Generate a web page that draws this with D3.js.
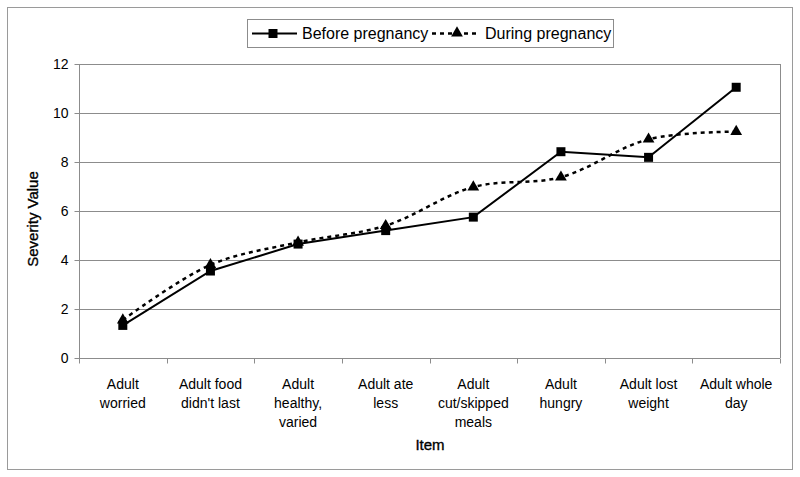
<!DOCTYPE html>
<html><head><meta charset="utf-8">
<script src="https://cdn.jsdelivr.net/npm/d3@7"></script>
<style>body{margin:0;background:#fff;} text{font-family:"Liberation Sans",Arial,sans-serif;fill:#000;}</style>
</head><body>
<svg id="c" width="800" height="477"></svg>
<script>
const categories = [
  ["Adult","worried"],
  ["Adult food","didn't last"],
  ["Adult","healthy,","varied"],
  ["Adult ate","less"],
  ["Adult","cut/skipped","meals"],
  ["Adult","hungry"],
  ["Adult lost","weight"],
  ["Adult whole","day"]
];
const beforeValues = [1.33, 3.55, 4.65, 5.2, 5.75, 8.42, 8.19, 11.05];
const duringValues = [1.55, 3.8, 4.72, 5.4, 6.98, 7.38, 8.93, 9.24];
const yTicks = [0, 2, 4, 6, 8, 10, 12];
const seriesNames = ["Before pregnancy", "During pregnancy"];

const svg = d3.select("#c");
const m = {l: 79, r: 780, t: 64, b: 358};
const keys = categories.map((d, i) => i);
const x = d3.scaleBand().domain(keys).range([m.l, m.r]);
const y = d3.scaleLinear().domain([0, 12]).range([m.b, m.t]);

// outer border
svg.append("rect").attr("x", 7.5).attr("y", 7.5).attr("width", 785).attr("height", 462)
  .attr("fill", "none").attr("stroke", "#9a9a9a").attr("stroke-width", 1);

// gridlines
svg.append("g").selectAll("line").data(yTicks.filter(t => t > 0)).join("line")
  .attr("x1", m.l).attr("x2", m.r).attr("y1", d => Math.round(y(d)) + 0.5).attr("y2", d => Math.round(y(d)) + 0.5)
  .attr("stroke", "#8c8c8c").attr("stroke-width", 1);
svg.append("line").attr("x1", m.r + 0.5).attr("x2", m.r + 0.5).attr("y1", m.t).attr("y2", m.b)
  .attr("stroke", "#8c8c8c");

// y axis
const yAxis = svg.append("g").attr("transform", `translate(${m.l + 0.5},0)`)
  .call(d3.axisLeft(y).tickValues(yTicks).tickSize(5).tickPadding(6).tickFormat(d3.format("d")));
yAxis.selectAll("text").style("font-size", "14px").style("font-family", "Liberation Sans, Arial");
yAxis.selectAll("line,path").attr("stroke", "#8c8c8c");
yAxis.select("path").attr("d", `M0,${y(12)}V${y(0)}`);

// x axis
const xAxisG = svg.append("g").attr("transform", `translate(0,${Math.round(m.b) + 0.5})`);
xAxisG.append("line").attr("x1", m.l).attr("x2", m.r).attr("stroke", "#8c8c8c");
xAxisG.selectAll("line.tk").data(d3.range(categories.length + 1)).join("line").attr("class", "tk")
  .attr("x1", i => Math.round(m.l + i * x.step()) + 0.5).attr("x2", i => Math.round(m.l + i * x.step()) + 0.5)
  .attr("y1", 0).attr("y2", 5).attr("stroke", "#8c8c8c");
const lbl = xAxisG.selectAll("text").data(categories).join("text")
  .attr("text-anchor", "middle").style("font-size", "14px")
  .attr("transform", (d, i) => `translate(${x(i) + x.bandwidth() / 2},0)`);
lbl.selectAll("tspan").data(d => d).join("tspan").attr("x", 0).attr("y", (d, j) => 30 + j * 19).text(d => d);

// axis titles
svg.append("text").attr("x", 430).attr("y", 450).attr("text-anchor", "middle")
  .style("font-size", "15px").style("stroke", "#000").style("stroke-width", "0.35").text("Item");
svg.append("text").attr("transform", "translate(38,219) rotate(-90)").attr("text-anchor", "middle")
  .style("font-size", "15px").style("stroke", "#000").style("stroke-width", "0.35").text("Severity Value");

const cx = i => x(i) + x.bandwidth() / 2;

const lineB = d3.line().x((d, i) => cx(i)).y(d => y(d));
svg.append("path").attr("d", lineB(beforeValues)).attr("fill", "none").attr("stroke", "#000").attr("stroke-width", 2);
const lineD = d3.line().x((d, i) => cx(i)).y(d => y(d)).curve(d3.curveCatmullRom.alpha(0.5));
svg.append("path").attr("d", lineD(duringValues)).attr("fill", "none").attr("stroke", "#000")
  .attr("stroke-width", 2.5).attr("stroke-dasharray", "4,4");

const sq = d3.symbol().type(d3.symbolSquare).size(81);
const tri = d3.symbol().type(d3.symbolTriangle).size(60);
svg.append("g").selectAll("path").data(duringValues).join("path")
  .attr("d", tri).attr("transform", (d, i) => `translate(${cx(i)},${y(d)})`).attr("fill", "#000");
svg.append("g").selectAll("path").data(beforeValues).join("path")
  .attr("d", sq).attr("transform", (d, i) => `translate(${cx(i)},${y(d)})`).attr("fill", "#000");

// legend
const lg = svg.append("g");
lg.append("rect").attr("x", 247.5).attr("y", 19.5).attr("width", 366).attr("height", 28)
  .attr("fill", "#fff").attr("stroke", "#8c8c8c");
lg.append("line").attr("x1", 252).attr("x2", 297).attr("y1", 33.5).attr("y2", 33.5).attr("stroke", "#000").attr("stroke-width", 2);
lg.append("path").attr("d", sq).attr("transform", "translate(273,33.5)").attr("fill", "#000");
lg.append("text").attr("x", 302).attr("y", 39).style("font-size", "16px").text(seriesNames[0]);
lg.append("line").attr("x1", 432).attr("x2", 480).attr("y1", 33.5).attr("y2", 33.5).attr("stroke", "#000")
  .attr("stroke-width", 2.5).attr("stroke-dasharray", "4,4");
lg.append("path").attr("d", tri).attr("transform", "translate(457,33)").attr("fill", "#000");
lg.append("text").attr("x", 485).attr("y", 39).style("font-size", "16px").text(seriesNames[1]);
</script>
</body></html>
